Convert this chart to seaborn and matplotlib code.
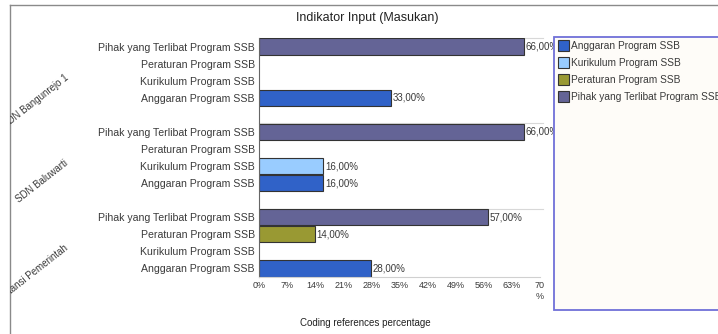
import matplotlib
matplotlib.use("Agg")
import matplotlib.pyplot as plt
import matplotlib.transforms as mtransforms
from matplotlib.patches import Rectangle, Patch
import pandas as pd
import seaborn as sns

# ---- data -------------------------------------------------------------
groups = ["SDN Bangunrejo 1", "SDN Baluwarti", "Instansi Pemerintah"]
indicators = ["Anggaran Program SSB", "Kurikulum Program SSB",
              "Peraturan Program SSB", "Pihak yang Terlibat Program SSB"]
# percentage per indicator, one list per group (same order as `indicators`)
bangunrejo = [33, 0, 0, 66]
baluwarti = [16, 16, 0, 66]
instansi = [28, 0, 14, 57]
x_ticks = [0, 7, 14, 21, 28, 35, 42, 49, 56, 63, 70]
colors = ["#3062c8", "#99ccff", "#999933", "#646496"]

title = "Indikator Input (Masukan)"
x_label = "Coding references percentage"

# ---- table ------------------------------------------------------------
rows = []
for g, vals in zip(groups, [bangunrejo, baluwarti, instansi]):
    for ind, v in zip(indicators, vals):
        rows.append({"group": g, "indicator": ind, "value": v,
                     "key": f"{g} | {ind}"})
df = pd.DataFrame(rows)

# rows top to bottom: indicators reversed within each group, blank slot between groups
row_order, row_labels = [], []
for i, g in enumerate(groups):
    if i > 0:
        row_order.append(f"gap{i}")
        row_labels.append("")
    for ind in reversed(indicators):
        row_order.append(f"{g} | {ind}")
        row_labels.append(ind)

plt.rcParams["font.family"] = ["Liberation Sans", "DejaVu Sans"]
TXT = "#3a3a3a"

fig = plt.figure(figsize=(7.18, 3.34), dpi=100)
W, H = 718, 334
ax = fig.add_axes([259 / W, 1 - 277 / H, 281 / W, 239 / H])

sns.barplot(data=df[df["value"] > 0], x="value", y="key", hue="indicator",
            hue_order=indicators, palette=colors, order=row_order,
            orient="h", dodge=False, width=0.95, edgecolor="#333333",
            linewidth=0.8, saturation=1, legend=False, ax=ax)

ax.set_xlim(0, 70)
ax.set_ylim(len(row_order) - 0.5, -0.5)
ax.set_xticks(x_ticks)
ax.set_xticklabels([f"{t}%" for t in x_ticks[:-1]] + [f"{x_ticks[-1]}\n%"],
                   fontsize=6.5, color=TXT)
ax.set_yticks(range(len(row_order)))
ax.set_yticklabels(row_labels, fontsize=7.6, color=TXT)
ax.tick_params(length=0, pad=3)
ax.set_xlabel("")
ax.set_ylabel("")
for s in ["top", "right"]:
    ax.spines[s].set_visible(False)
ax.spines["left"].set_color("#666666")
ax.spines["bottom"].set_color("#d0d0d0")
ax.set_facecolor("white")

# separators at the top of each group
n_ind = len(indicators)
for i in range(len(groups)):
    ax.axhline(i * (n_ind + 1) - 0.5, color="#d8d8d8", lw=0.8, zorder=0,
               xmax=1.01, clip_on=False)

# value labels next to the bars
for p in ax.patches:
    w = p.get_width()
    if w > 0:
        ax.text(w + 0.4, p.get_y() + p.get_height() / 2,
                f"{w:.2f}".replace(".", ",") + "%",
                va="center", ha="left", fontsize=7, color=TXT)

# outer frame and clip region for group labels
frame = fig.add_axes([10 / W, -0.1, 1.1, 1 - 5 / H + 0.1])
frame.set_xticks([])
frame.set_yticks([])
frame.patch.set_alpha(0)
frame.set_zorder(-1)
for s in frame.spines.values():
    s.set_color("#8a8a8a")
    s.set_linewidth(1.0)

blend = mtransforms.blended_transform_factory(fig.transFigure, ax.transData)
shift = mtransforms.ScaledTranslation(0, -4 / 100, fig.dpi_scale_trans)
for i, g in enumerate(groups):
    yc = i * (n_ind + 1) + (n_ind - 1) / 2
    t = fig.text(67 / W, yc, g, transform=blend + shift, rotation=38,
                 rotation_mode="anchor", ha="right", va="center",
                 fontsize=7, color=TXT)
    t.set_clip_on(True)
    t.set_clip_box(frame.bbox)

fig.text(367 / W, 1 - 18 / H, title, ha="center", va="center",
         fontsize=9, color="#222222")
fig.text(365 / W, 1 - 323 / H, x_label, ha="center", va="center",
         fontsize=7, color="#222222")

# legend panel
fig.patches.append(Rectangle((554 / W, 1 - 310 / H), 0.5, (310 - 37) / H,
                             transform=fig.transFigure, facecolor="#fefcf8",
                             edgecolor="#7070d8", linewidth=1.3, zorder=2))
handles = [Patch(facecolor=c, edgecolor="#333333", linewidth=0.8) for c in colors]
leg = fig.legend(handles, indicators, loc="upper left",
                 bbox_to_anchor=(556 / W, 1 - 38 / H), frameon=False,
                 fontsize=7.3, handlelength=1.1, handleheight=1.25,
                 handletextpad=0.15, labelspacing=0.62, borderaxespad=0,
                 borderpad=0.2)
leg.set_zorder(3)
for t in leg.get_texts():
    t.set_color(TXT)

fig.savefig("out.png", dpi=100, facecolor="white")
